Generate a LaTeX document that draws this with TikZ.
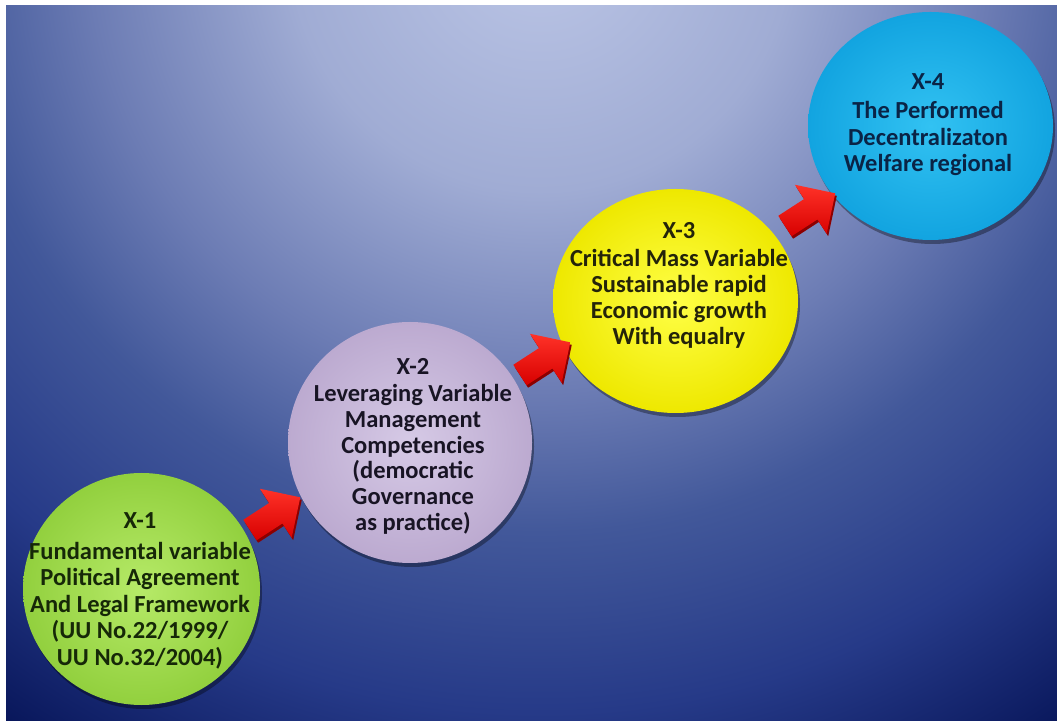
\documentclass[tikz,border=0pt]{standalone}
\usepackage{fontspec}
\setmainfont{Carlito}
\usetikzlibrary{shapes.geometric,shapes.arrows,shadows}
\definecolor{bgA}{RGB}{188,198,230}
\definecolor{bgB}{RGB}{160,172,212}
\definecolor{bgC}{RGB}{108,124,180}
\definecolor{bgD}{RGB}{66,88,154}
\definecolor{bgE}{RGB}{38,58,136}
\definecolor{bgF}{RGB}{8,22,90}
\pgfdeclareradialshading{bgshade}{\pgfpoint{0bp}{0bp}}{color(0bp)=(bgA); color(250bp)=(bgB); color(450bp)=(bgC); color(590bp)=(bgD); color(770bp)=(bgE); color(946bp)=(bgF)}
\definecolor{gIn}{RGB}{182,234,104}
\definecolor{gOut}{RGB}{146,208,62}
\definecolor{lIn}{RGB}{214,202,230}
\definecolor{lOut}{RGB}{188,170,208}
\definecolor{yIn}{RGB}{255,255,70}
\definecolor{yOut}{RGB}{238,232,0}
\definecolor{cIn}{RGB}{50,194,242}
\definecolor{cOut}{RGB}{18,164,224}
\definecolor{tGreen}{RGB}{22,40,8}
\definecolor{tLav}{RGB}{24,20,36}
\definecolor{tYel}{RGB}{36,36,10}
\definecolor{tCyan}{RGB}{10,36,70}
\definecolor{arLight}{RGB}{255,50,40}
\definecolor{arDark}{RGB}{215,0,0}
\definecolor{arShade}{RGB}{140,0,0}
\tikzset{
  bubble/.style n args={2}{ellipse, inner sep=0pt, inner color=#1, outer color=#2,
    drop shadow={shadow xshift=2pt, shadow yshift=-4pt, opacity=0.35, fill=black}},
  txt/.style={align=center, inner sep=0pt},
  blockarrow/.style={single arrow, minimum height=60pt, single arrow head extend=17pt,
    inner sep=0pt, text height=24pt, text depth=0pt, text width=0pt, rotate=33},
  redarrow/.style={blockarrow, top color=arLight, bottom color=arDark},
  redarrowshade/.style={blockarrow, fill=arShade}
}
\newcommand{\txtfont}[1]{\bfseries\fontsize{24.5}{#1}\selectfont}
\begin{document}
\begin{tikzpicture}[x=1pt,y=1pt]
\useasboundingbox (0,0) rectangle (1057,720);
\fill[white] (0,0) rectangle (1057,720);
\begin{scope}
  \clip (6,0) rectangle (1057,714);
  \node[inner sep=0pt, outer sep=0pt] (bg) at (540,780) {\pgfuseshading{bgshade}};
\end{scope}
% bubbles
\node[bubble={gIn}{gOut}, minimum width=237pt, minimum height=232pt] (c1) at (141.5,131) {};
\node[bubble={lIn}{lOut}, minimum width=244pt, minimum height=241pt] (c2) at (410,277.5) {};
\node[bubble={yIn}{yOut}, minimum width=245pt, minimum height=224pt] (c3) at (675.5,419) {};
\node[bubble={cIn}{cOut}, minimum width=245pt, minimum height=228pt] (c4) at (930.5,594) {};
% arrows
\coordinate (p1) at (270,203);
\coordinate (p2) at (540,358);
\coordinate (p3) at (805,507);
\node[redarrowshade] (s1) at ([shift={(1.5,-2.5)}]p1) {};
\node[redarrowshade] (s2) at ([shift={(1.5,-2.5)}]p2) {};
\node[redarrowshade] (s3) at ([shift={(1.5,-2.5)}]p3) {};
\node[redarrow] (a1) at (p1) {};
\node[redarrow] (a2) at (p2) {};
\node[redarrow] (a3) at (p3) {};
% texts
\node[txt, text=tGreen, font=\txtfont{26.5}] (t1) at (140,129) {X-1\\[4pt]Fundamental variable\\Political Agreement\\And Legal Framework\\(UU No.22/1999/\\UU No.32/2004)};
\node[txt, text=tLav, font=\txtfont{25.8}] (t2) at (413,273.5) {X-2\\[1pt]Leveraging Variable\\Management\\Competencies\\(democratic\\Governance\\as practice)};
\node[txt, text=tYel, font=\txtfont{25.7}] (t3) at (679,435) {X-3\\[3pt]Critical Mass Variable\\Sustainable rapid\\Economic growth\\With equalry};
\node[txt, text=tCyan, font=\txtfont{26.5}] (t4) at (928,595.5) {X-4\\[3pt]The Performed\\Decentralizaton\\Welfare regional};
\end{tikzpicture}
\end{document}
